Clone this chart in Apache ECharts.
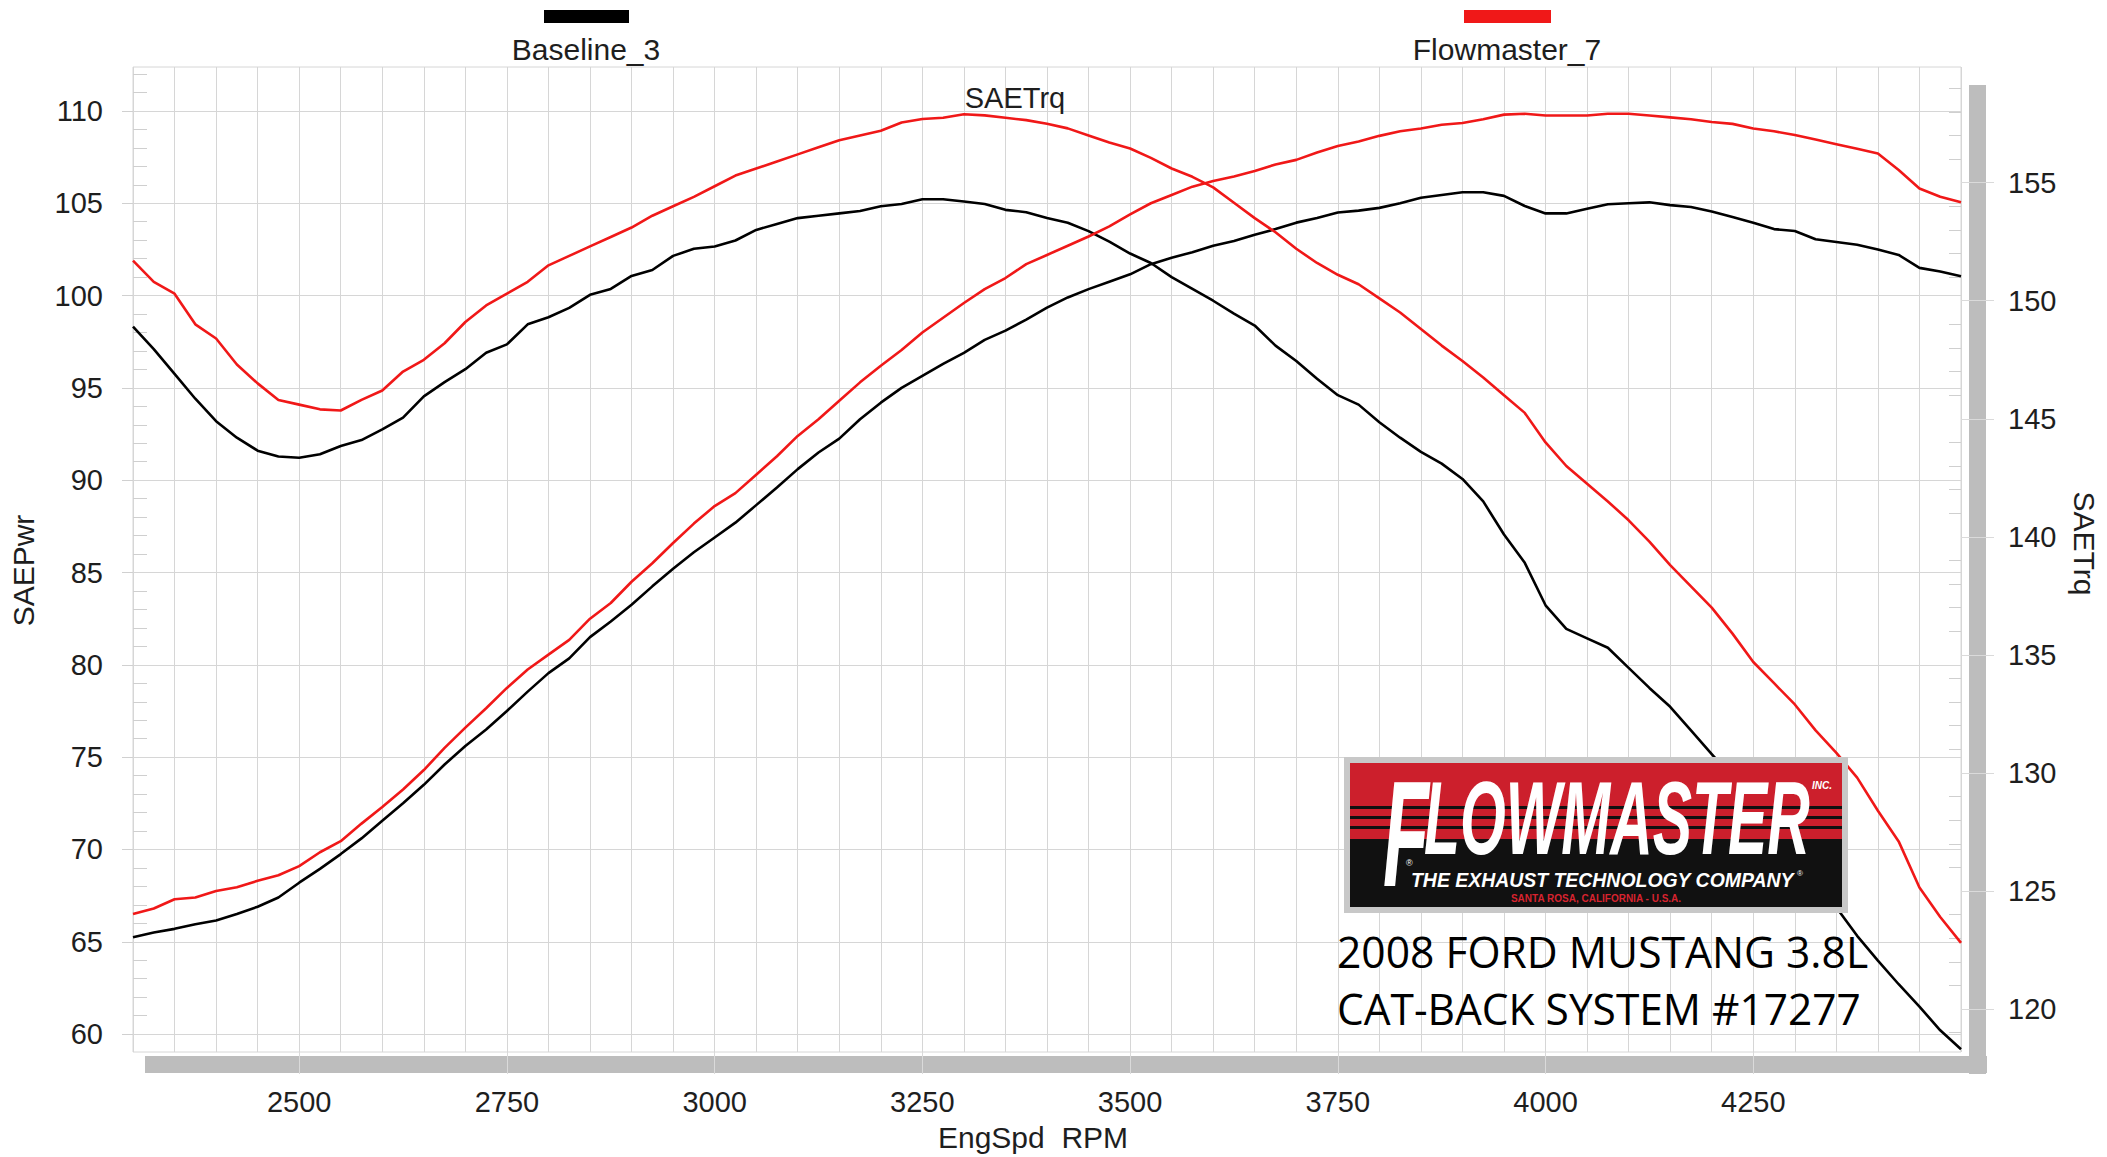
<!DOCTYPE html>
<html>
<head>
<meta charset="utf-8">
<script src="https://cdn.jsdelivr.net/npm/echarts@6/dist/echarts.min.js"></script>
<style>
html,body{margin:0;padding:0;background:#fff;}
#chart{width:2107px;height:1157px;}
</style>
</head>
<body>
<div id="chart"></div>
<script>
// ---------- DATA ----------
const rpm = [2300,2325,2350,2375,2400,2425,2450,2475,2500,2525,
  2550,2575,2600,2625,2650,2675,2700,2725,2750,2775,
  2800,2825,2850,2875,2900,2925,2950,2975,3000,3025,
  3050,3075,3100,3125,3150,3175,3200,3225,3250,3275,
  3300,3325,3350,3375,3400,3425,3450,3475,3500,3525,
  3550,3575,3600,3625,3650,3675,3700,3725,3750,3775,
  3800,3825,3850,3875,3900,3925,3950,3975,4000,4025,
  4050,4075,4100,4125,4150,4175,4200,4225,4250,4275,
  4300,4325,4350,4375,4400,4425,4450,4475,4500];

const baselinePwr = [65.25,65.5,65.7,65.95,66.15,66.5,66.9,67.4,68.2,68.95,
  69.75,70.6,71.55,72.5,73.5,74.6,75.6,76.5,77.5,78.55,
  79.55,80.35,81.5,82.35,83.25,84.25,85.2,86.1,86.9,87.7,
  88.65,89.6,90.6,91.5,92.25,93.3,94.2,95.0,95.65,96.3,
  96.9,97.6,98.1,98.7,99.35,99.9,100.35,100.75,101.15,101.7,
  102.05,102.35,102.7,102.95,103.3,103.6,103.95,104.2,104.5,104.6,
  104.75,105.0,105.3,105.45,105.6,105.6,105.4,104.85,104.45,104.45,
  104.7,104.95,105.0,105.05,104.9,104.8,104.55,104.25,103.95,103.6,
  103.5,103.05,102.9,102.75,102.5,102.2,101.5,101.3,101.05];

const baselineTrq = [148.9,147.95,146.9,145.85,144.9,144.2,143.65,143.4,143.35,143.5,
  143.85,144.1,144.55,145.05,145.95,146.55,147.1,147.8,148.15,149.0,
  149.3,149.7,150.25,150.5,151.05,151.3,151.9,152.2,152.3,152.55,
  153.0,153.25,153.5,153.6,153.7,153.8,154.0,154.1,154.3,154.3,
  154.2,154.1,153.85,153.75,153.5,153.3,152.95,152.5,152.0,151.6,
  151.0,150.5,150.0,149.45,148.95,148.1,147.45,146.7,146.0,145.6,
  144.85,144.2,143.6,143.1,142.45,141.5,140.1,138.9,137.1,136.1,
  135.7,135.3,134.45,133.6,132.8,131.8,130.8,129.8,128.75,127.7,
  126.7,125.6,124.3,123.1,122.05,121.05,120.1,119.1,118.3];

const flowmasterPwr = [66.5,66.8,67.3,67.4,67.75,67.95,68.3,68.6,69.1,69.85,
  70.45,71.4,72.3,73.25,74.3,75.5,76.6,77.65,78.75,79.75,
  80.55,81.35,82.5,83.35,84.5,85.5,86.6,87.65,88.6,89.3,
  90.3,91.3,92.4,93.3,94.3,95.3,96.2,97.05,98.0,98.8,
  99.6,100.35,100.95,101.7,102.2,102.7,103.2,103.75,104.4,105.0,
  105.45,105.9,106.2,106.45,106.75,107.1,107.35,107.75,108.1,108.35,
  108.65,108.9,109.05,109.25,109.35,109.55,109.8,109.85,109.75,109.75,
  109.75,109.85,109.85,109.75,109.65,109.55,109.4,109.3,109.05,108.9,
  108.7,108.45,108.2,107.95,107.7,106.8,105.8,105.35,105.05];

const flowmasterTrq = [151.7,150.8,150.3,149.0,148.4,147.3,146.5,145.8,145.6,145.4,
  145.35,145.8,146.2,147.0,147.5,148.2,149.1,149.8,150.3,150.8,
  151.5,151.9,152.3,152.7,153.1,153.6,154.0,154.4,154.85,155.3,
  155.6,155.9,156.2,156.5,156.8,157.0,157.2,157.55,157.7,157.75,
  157.9,157.85,157.75,157.65,157.5,157.3,157.0,156.7,156.45,156.05,
  155.6,155.25,154.8,154.15,153.5,152.9,152.2,151.6,151.1,150.7,
  150.1,149.5,148.8,148.1,147.45,146.75,146.0,145.25,144.0,143.0,
  142.25,141.5,140.7,139.8,138.8,137.9,137.0,135.9,134.7,133.8,
  132.9,131.8,130.85,129.8,128.4,127.1,125.15,123.9,122.8];

const rpmTicks = [2500,2750,3000,3250,3500,3750,4000,4250];
const pwrTicks = [60,65,70,75,80,85,90,95,100,105,110];
const trqTicks = [120,125,130,135,140,145,150,155];

const seriesNames = ['Baseline_3','Flowmaster_7'];
const captionLines = ['2008 FORD MUSTANG 3.8L','CAT-BACK SYSTEM #17277'];

// ---------- STYLE / LAYOUT ----------
const FONT = '"Liberation Sans", Arial, sans-serif';
const TXT = '#1e1e1e';
const RED = '#f01818';
const GRIDC = '#d6d6d6';
const G = {left:127, top:67, width:1841, height:988};

const mctx = document.createElement('canvas').getContext('2d');
function fit(text, font, w){ mctx.font = font; return w / mctx.measureText(text).width; }

const pair = arr => rpm.map((r,i)=>[r, arr[i]]);
const plain = v => String(v);

const chart = echarts.init(document.getElementById('chart'), null, {renderer:'svg'});

const fmFont = 'italic bold 104px "Liberation Sans"';
const fFont = 'italic bold 150px "Liberation Sans"';
const tagFont = 'italic bold 21px "Liberation Sans"';
const capFont = '500 44px "Open Sans"';

const graphics = [
  // drop shadow of plot frame
  {type:'rect', z:-1, shape:{x:G.left+G.width+1, y:G.top+18, width:17, height:G.height+1}, style:{fill:'#bdbdbd'}},
  {type:'rect', z:-1, shape:{x:G.left+18, y:G.top+G.height+1, width:G.width+1, height:17}, style:{fill:'#bdbdbd'}},
  // legend
  {type:'rect', shape:{x:544, y:10, width:85, height:13}, style:{fill:'#000'}},
  {type:'text', x:586, y:49, style:{text:seriesNames[0], font:'30px '+FONT, fill:TXT, align:'center', verticalAlign:'middle'}},
  {type:'rect', shape:{x:1464, y:10, width:87, height:13}, style:{fill:RED}},
  {type:'text', x:1507, y:49, style:{text:seriesNames[1], font:'30px '+FONT, fill:TXT, align:'center', verticalAlign:'middle'}},
  // in-plot label
  {type:'text', x:1015, y:98, z:5, style:{text:'SAETrq', font:'29px '+FONT, fill:TXT, align:'center', verticalAlign:'middle'}},
  // logo
  {type:'rect', z:20, shape:{x:1344, y:757, width:504, height:156}, style:{fill:'#c8c8c8'}},
  {type:'rect', z:21, shape:{x:1350, y:763, width:492, height:144}, style:{fill:'#111'}},
  {type:'rect', z:21, shape:{x:1350, y:763, width:492, height:76}, style:{fill:'#cc1f2c'}},
  {type:'rect', z:22, shape:{x:1350, y:806, width:492, height:3}, style:{fill:'#111'}},
  {type:'rect', z:22, shape:{x:1350, y:816, width:492, height:3}, style:{fill:'#111'}},
  {type:'rect', z:22, shape:{x:1350, y:826, width:492, height:3}, style:{fill:'#111'}},
  {type:'text', z:23, x:1383, y:834, scaleX:0.5, style:{text:'F', font:fFont, fill:'#fff', align:'left', verticalAlign:'middle'}},
  {type:'text', z:23, x:1424, y:818, scaleX:fit('LOWMASTER', fmFont, 386), style:{text:'LOWMASTER', font:fmFont, fill:'#fff', align:'left', verticalAlign:'middle'}},
  {type:'text', z:23, x:1812, y:785, style:{text:'INC.', font:'italic bold 10px "Liberation Sans"', fill:'#fff', align:'left', verticalAlign:'middle'}},
  {type:'text', z:23, x:1406, y:863, style:{text:'®', font:'9px "Liberation Sans"', fill:'#fff', align:'left', verticalAlign:'middle'}},
  {type:'text', z:23, x:1411, y:880, scaleX:fit('THE EXHAUST TECHNOLOGY COMPANY', tagFont, 383), style:{text:'THE EXHAUST TECHNOLOGY COMPANY', font:tagFont, fill:'#fff', align:'left', verticalAlign:'middle'}},
  {type:'text', z:23, x:1797, y:873, style:{text:'®', font:'8px "Liberation Sans"', fill:'#fff', align:'left', verticalAlign:'middle'}},
  {type:'text', z:23, x:1596, y:898, style:{text:'SANTA ROSA, CALIFORNIA - U.S.A.', font:'bold 10px "Liberation Sans"', fill:'#d8232f', align:'center', verticalAlign:'middle'}},
  // caption
  {type:'text', z:24, x:1337, y:951, scaleX:fit(captionLines[0], capFont, 531), style:{text:captionLines[0], font:capFont, fill:'#000', align:'left', verticalAlign:'middle'}},
  {type:'text', z:24, x:1337, y:1008, scaleX:fit(captionLines[1], capFont, 524), style:{text:captionLines[1], font:capFont, fill:'#000', align:'left', verticalAlign:'middle'}}
];

const lineSeries = (name, data, yIdx, color) => ({
  name, type:'line', xAxisIndex:1, yAxisIndex:yIdx, data,
  symbol:'none', showSymbol:false, smooth:false, z:3,
  lineStyle:{color, width:2.6}, itemStyle:{color}, emphasis:{disabled:true}
});

chart.setOption({
  animation:false,
  backgroundColor:'#fff',
  grid:{left:G.left, top:G.top, width:G.width, height:G.height, show:true, borderColor:GRIDC, borderWidth:1, backgroundColor:'transparent', containLabel:false},
  xAxis:[
    {type:'value', position:'top', min:2300, max:4500, interval:50,
     axisLine:{show:false}, axisTick:{show:false}, axisLabel:{show:false},
     splitLine:{show:true, lineStyle:{color:GRIDC, width:1}}},
    {type:'value', position:'bottom', min:2300, max:4500,
     axisLine:{show:false}, splitLine:{show:false},
     axisTick:{show:true, customValues:rpmTicks, length:22, lineStyle:{color:'#dadada'}},
     axisLabel:{customValues:rpmTicks, formatter:plain, fontSize:29, fontFamily:FONT, color:TXT, margin:35},
     name:'EngSpd  RPM', nameLocation:'middle', nameGap:70,
     nameTextStyle:{fontSize:30, fontFamily:FONT, color:TXT, padding:[0,28,0,0]}}
  ],
  yAxis:[
    {type:'value', position:'left', min:59.03, max:112.38, splitNumber:10,
     axisLine:{show:false},
     axisTick:{show:true, customValues:pwrTicks, length:11, lineStyle:{color:'#d0d0d0'}},
     minorTick:{show:true, splitNumber:5, length:-14, lineStyle:{color:'#cfcfcf'}},
     splitLine:{show:true, lineStyle:{color:GRIDC, width:1}},
     axisLabel:{customValues:pwrTicks, formatter:plain, fontSize:29, fontFamily:FONT, color:TXT, margin:30},
     name:'SAEPwr', nameLocation:'middle', nameGap:95,
     nameTextStyle:{fontSize:30, fontFamily:FONT, color:TXT, padding:[0,22,0,0]}},
    {type:'value', position:'right', min:118.18, max:159.9, splitNumber:8,
     axisLine:{show:false},
     axisTick:{show:true, customValues:trqTicks, length:33, lineStyle:{color:'#dadada'}},
     minorTick:{show:true, splitNumber:5, length:-12, lineStyle:{color:'#cfcfcf'}},
     splitLine:{show:false},
     axisLabel:{customValues:trqTicks, formatter:plain, fontSize:29, fontFamily:FONT, color:TXT, margin:47},
     name:'SAETrq', nameLocation:'middle', nameRotate:-90, nameGap:108,
     nameTextStyle:{fontSize:30, fontFamily:FONT, color:TXT, padding:[0,32,0,0]}}
  ],
  series:[
    lineSeries(seriesNames[0]+' SAEPwr', pair(baselinePwr), 0, '#000'),
    lineSeries(seriesNames[0]+' SAETrq', pair(baselineTrq), 1, '#000'),
    lineSeries(seriesNames[1]+' SAEPwr', pair(flowmasterPwr), 0, RED),
    lineSeries(seriesNames[1]+' SAETrq', pair(flowmasterTrq), 1, RED)
  ],
  graphic:{elements:graphics}
});
</script>
</body>
</html>
